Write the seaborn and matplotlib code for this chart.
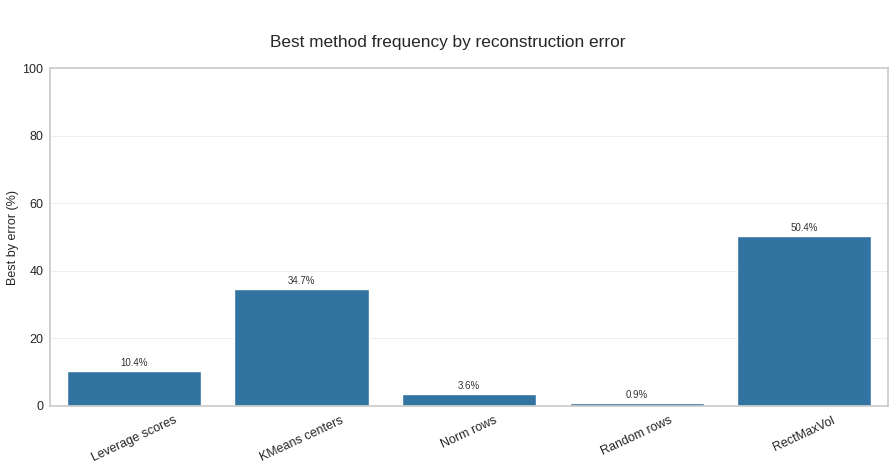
import matplotlib
matplotlib.use("Agg")
from matplotlib import pyplot as plt
import pandas as pd
import seaborn as sns

methods = ["Leverage scores", "KMeans centers", "Norm rows", "Random rows", "RectMaxVol"]
best_pct = [10.4, 34.7, 3.6, 0.9, 50.4]

df = pd.DataFrame({"method": methods, "pct": best_pct})

sns.set_theme(style="whitegrid")
plt.rcParams['font.family'] = ['Liberation Sans', 'DejaVu Sans']

fig, ax = plt.subplots(figsize=(8.96, 4.67), dpi=100)
sns.barplot(data=df, x="method", y="pct", color="#1f77b4", ax=ax)
ax.set_ylim(0, 100)
ax.set_xlabel("")
ax.set_ylabel("Best by error (%)", fontsize=9, labelpad=2)
fig.suptitle("Best method frequency by reconstruction error", fontsize=12.4, x=0.5, y=0.908, va="center")
ax.tick_params(axis="y", labelsize=9, length=0, pad=5)
ax.tick_params(axis="x", labelsize=9, length=0, pad=6)
plt.setp(ax.get_xticklabels(), rotation=25, ha="center")
ax.grid(axis="x", visible=False)
ax.grid(axis="y", color="#eeeeee", linewidth=0.8)
for s in ax.spines.values():
    s.set_color("#cccccc")
ax.bar_label(ax.containers[0], labels=[f"{v:.1f}%" for v in best_pct], fontsize=7, padding=2, color="#333333")

fig.subplots_adjust(left=0.056, right=0.991, top=0.854, bottom=0.131)
fig.savefig("out.png", dpi=100)
